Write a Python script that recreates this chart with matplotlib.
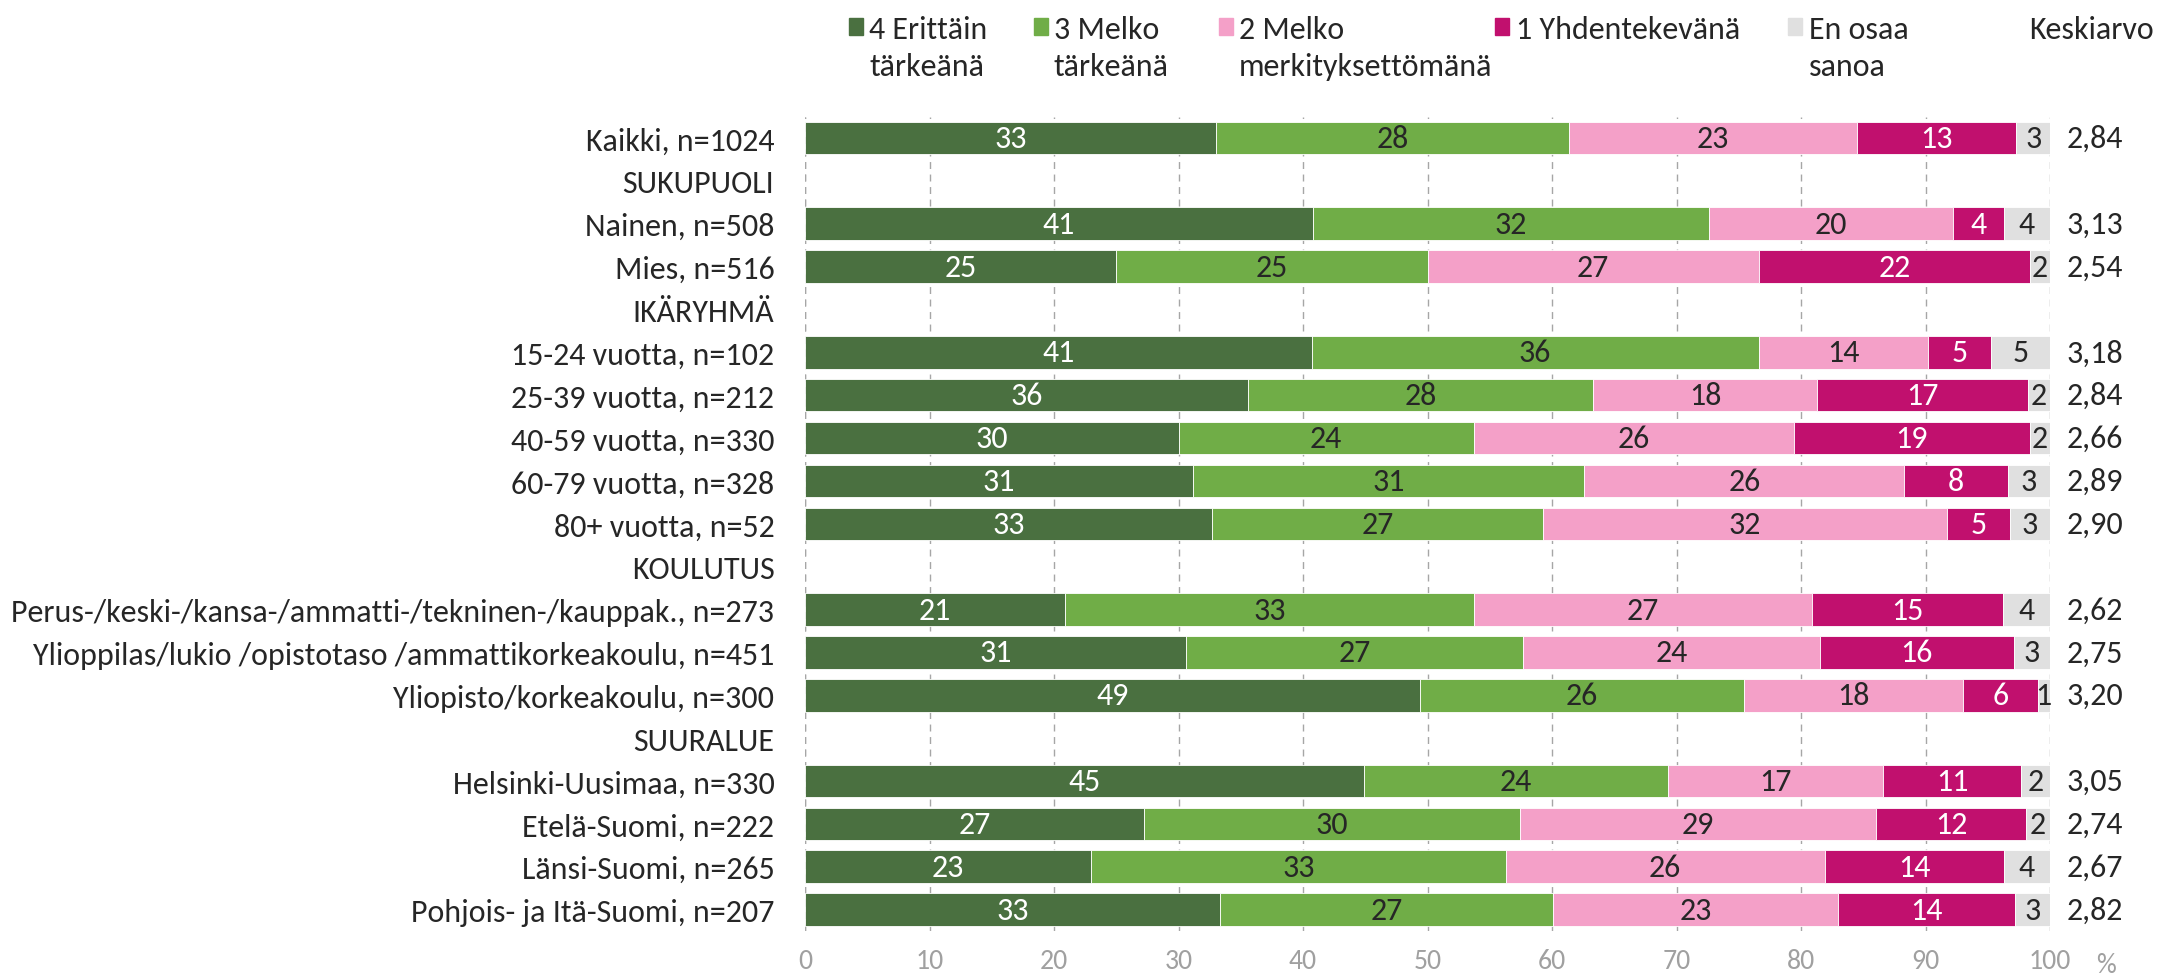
import matplotlib
matplotlib.use("Agg")
import matplotlib.pyplot as plt
import matplotlib.transforms as mtransforms
from matplotlib.patches import Rectangle
from matplotlib import font_manager

# pick a Calibri-like font if one is there
names = set(f.name for f in font_manager.fontManager.ttflist)
font = "Lato"
for cand in ["Carlito", "Liberation Sans Narrow", "Lato"]:
    if cand in names:
        font = cand
        break
plt.rcParams["font.family"] = [font, "DejaVu Sans"]

rows = [
    "Kaikki, n=1024",
    "SUKUPUOLI",
    "Nainen, n=508",
    "Mies, n=516",
    "IKÄRYHMÄ",
    "15-24 vuotta, n=102",
    "25-39 vuotta, n=212",
    "40-59 vuotta, n=330",
    "60-79 vuotta, n=328",
    "80+ vuotta, n=52",
    "KOULUTUS",
    "Perus-/keski-/kansa-/ammatti-/tekninen-/kauppak., n=273",
    "Ylioppilas/lukio /opistotaso /ammattikorkeakoulu, n=451",
    "Yliopisto/korkeakoulu, n=300",
    "SUURALUE",
    "Helsinki-Uusimaa, n=330",
    "Etelä-Suomi, n=222",
    "Länsi-Suomi, n=265",
    "Pohjois- ja Itä-Suomi, n=207",
]
headers = ["SUKUPUOLI", "IKÄRYHMÄ", "KOULUTUS", "SUURALUE"]

# values for the non-header rows, in order
erittain = [33.0, 40.8, 25.0, 40.7, 35.6, 30.0, 31.2, 32.7, 20.9, 30.6, 49.4, 44.9, 27.2, 23.0, 33.3]
melko = [28.4, 31.8, 25.0, 35.9, 27.7, 23.7, 31.4, 26.6, 32.8, 27.1, 26.0, 24.4, 30.2, 33.3, 26.8]
merkityksetton = [23.1, 19.6, 26.6, 13.6, 18.0, 25.7, 25.7, 32.4, 27.2, 23.8, 17.6, 17.3, 28.6, 25.6, 22.9]
yhdentekeva = [12.8, 4.1, 21.8, 5.1, 16.9, 19.0, 8.3, 5.1, 15.3, 15.6, 6.0, 11.1, 12.1, 14.4, 14.2]
eos = [2.7, 3.7, 1.6, 4.7, 1.8, 1.6, 3.4, 3.2, 3.8, 2.9, 1.0, 2.3, 1.9, 3.7, 2.8]
keskiarvo = ["2,84", "3,13", "2,54", "3,18", "2,84", "2,66", "2,89", "2,90",
             "2,62", "2,75", "3,20", "3,05", "2,74", "2,67", "2,82"]

series = [erittain, melko, merkityksetton, yhdentekeva, eos]
legend_labels = ["4 Erittäin\ntärkeänä", "3 Melko\ntärkeänä", "2 Melko\nmerkityksettömänä",
                 "1 Yhdentekevänä", "En osaa\nsanoa"]
colors = ["#4a7040", "#70ad47", "#f4a0c8", "#c1106e", "#e0e0e0"]
text_colors = ["white", "#262626", "#262626", "white", "#262626"]
dark = "#262626"
fs = 23

W, H = 2157, 978
fig = plt.figure(figsize=(W / 100, H / 100), dpi=100)
x0, x1, ytop, ybot = 805, 2050, 117.6, 932
ax = fig.add_axes([x0 / W, 1 - ybot / H, (x1 - x0) / W, (ybot - ytop) / H])

ypos = [i for i, r in enumerate(rows) if r not in headers]

left = [0.0] * len(ypos)
for vals, c, tc in zip(series, colors, text_colors):
    bars = ax.barh(ypos, vals, left=left, height=0.76, color=c,
                   edgecolor="white", linewidth=0.6, zorder=2)
    for b, v in zip(bars, vals):
        ax.text(b.get_x() + b.get_width() / 2, b.get_y() + b.get_height() / 2,
                "%d" % round(v), ha="center", va="center", color=tc,
                fontsize=fs, zorder=3)
    left = [l + v for l, v in zip(left, vals)]

ax.set_xlim(0, 100)
ax.set_ylim(len(rows) - 0.5, -0.5)
ax.set_xticks(range(0, 101, 10))
ax.set_yticks(range(len(rows)))
ax.set_yticklabels(rows, fontsize=fs, color=dark)
ax.tick_params(axis="y", length=0, pad=22)
ax.tick_params(axis="x", length=0, pad=12, labelsize=20, labelcolor="#a0a0a0")
for s in ax.spines.values():
    s.set_visible(False)
ax.xaxis.grid(True, linestyle=(0, (5, 4)), color="#a6a6a6", linewidth=1.0, zorder=0)
ax.set_axisbelow(True)
ax.axvline(0, linestyle=(0, (5, 4)), color="#a6a6a6", linewidth=1.0, zorder=0)

fig.text(2106 / W, 1 - 966 / H, "%", color="#a0a0a0", fontsize=20, va="center", ha="center")

# mean values
trans = mtransforms.blended_transform_factory(fig.transFigure, ax.transData)
for y, m in zip(ypos, keskiarvo):
    ax.text(2067 / W, y, m, transform=trans, ha="left", va="center",
            fontsize=fs, color=dark)

# legend
sq_x = [849, 1034, 1219, 1495, 1788]
txt_x = [869, 1054, 1239, 1516, 1809]
for sx, tx, c, lab in zip(sq_x, txt_x, colors, legend_labels):
    fig.patches.append(Rectangle((sx / W, 1 - 36 / H), 14 / W, 17 / H,
                                 transform=fig.transFigure, color=c))
    for k, line in enumerate(lab.split("\n")):
        fig.text(tx / W, 1 - (39 + 37 * k) / H, line, ha="left", va="baseline",
                 fontsize=fs, color=dark)
fig.text(2029 / W, 1 - 39 / H, "Keskiarvo", ha="left", va="baseline", fontsize=fs, color=dark)

fig.savefig("out.png", dpi=100)
